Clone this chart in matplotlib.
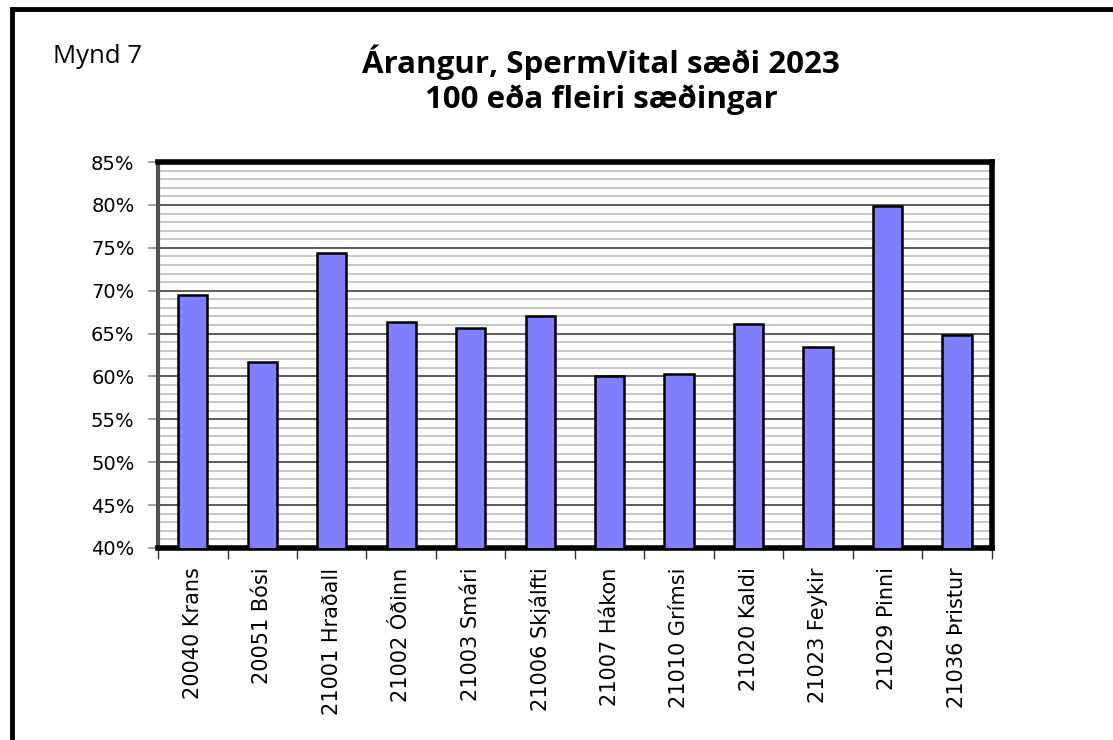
import numpy as np
import matplotlib
matplotlib.use('Agg')
from matplotlib import pyplot as plt
from matplotlib.patches import Rectangle
from matplotlib.ticker import MultipleLocator, FuncFormatter

bulls = ['20040 Krans', '20051 Bósi', '21001 Hraðall', '21002 Óðinn',
         '21003 Smári', '21006 Skjálfti', '21007 Hákon', '21010 Grímsi',
         '21020 Kaldi', '21023 Feykir', '21029 Pinni', '21036 Þristur']
results = [69.5, 61.7, 74.4, 66.3, 65.6, 67.0, 60.0, 60.3, 66.1, 63.4, 79.9, 64.8]

fig = plt.figure(figsize=(11.13, 7.4), dpi=100)

# outer frame (only left, top and right are visible in the original)
fig.patches.append(Rectangle((0.0105, -0.05), 1.2, 1.0375, transform=fig.transFigure,
                             fill=False, edgecolor='black', linewidth=3.5))

ax = fig.add_axes([0.142, 0.2595, 0.749, 0.5215])
x = np.arange(len(bulls))
ax.bar(x, results, width=0.42, color='#8080ff', edgecolor='black', linewidth=1.8, zorder=3)

ax.set_xlim(-0.5, len(bulls) - 0.5)
ax.set_ylim(40, 85)
ax.yaxis.set_major_locator(MultipleLocator(5))
ax.yaxis.set_minor_locator(MultipleLocator(1))
ax.yaxis.set_major_formatter(FuncFormatter(lambda v, p: f'{v:.0f}%'))
ax.grid(which='minor', axis='y', color='#c8c8c8', linewidth=1.4, zorder=1)
ax.grid(which='major', axis='y', color='#303030', linewidth=1.1, zorder=2)

ax.set_xticks(x)
ax.set_xticklabels(bulls, rotation=90, fontsize=15, family='DejaVu Sans')
ax.tick_params(axis='x', which='major', length=0, pad=14)
ax.set_xticks(np.arange(-0.5, len(bulls)), minor=True)
ax.tick_params(axis='x', which='minor', length=8, width=1, color='#303030')
ax.tick_params(axis='y', which='major', length=7, width=1.2, color='#909090',
               labelsize=14, pad=10)
ax.tick_params(axis='y', which='minor', length=0)

for side in ['top', 'right', 'bottom']:
    ax.spines[side].set_linewidth(4)
    ax.spines[side].set_color('black')
ax.spines['left'].set_linewidth(3)
ax.spines['left'].set_color('#505050')

fig.text(0.048, 0.915, 'Mynd 7', fontsize=18.5, family='Open Sans', va='baseline')
fig.text(0.540, 0.9014, 'Árangur, SpermVital sæði 2023', fontsize=22.5,
         fontweight='bold', family='Open Sans', ha='center', va='baseline')
fig.text(0.540, 0.854, '100 eða fleiri sæðingar', fontsize=22.5,
         fontweight='bold', family='Open Sans', ha='center', va='baseline')

fig.savefig('out.png', dpi=100)
